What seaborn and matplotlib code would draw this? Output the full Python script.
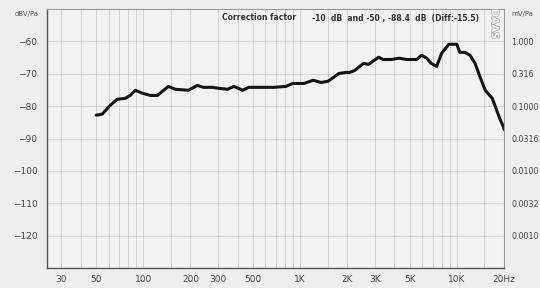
import numpy as np
import pandas as pd
import matplotlib
matplotlib.use("Agg")
import matplotlib.pyplot as plt
import matplotlib.patheffects as pe
import seaborn as sns

# ---- data ----
freq_hz = [50, 54.6, 61.4, 68, 76.7, 82.5, 88.9, 98.5, 110.9, 123, 144.6, 160, 194, 221, 242,
           277, 303, 345, 378, 431, 470, 563, 681, 813, 900, 1060, 1212, 1363, 1510, 1772,
           1970, 2070, 2230, 2540, 2730, 3170, 3400, 3820, 4300, 4780, 5540, 5960, 6420,
           6860, 7440, 8000, 8880, 10000, 10450, 11280, 12150, 13080, 14090, 15180, 16840,
           18150, 19000, 19900, 20000]
level_db = [-82.8, -82.5, -79.8, -77.9, -77.6, -76.7, -75.1, -76.0, -76.7, -76.7, -73.9, -74.8,
            -75.1, -73.6, -74.2, -74.2, -74.5, -74.8, -73.9, -75.1, -74.2, -74.2, -74.2, -73.9,
            -73.0, -73.0, -72.0, -72.7, -72.3, -69.9, -69.6, -69.6, -69.0, -66.8, -67.1, -64.9,
            -65.6, -65.6, -65.2, -65.6, -65.6, -64.3, -65.2, -66.8, -67.7, -63.7, -60.9, -60.9,
            -63.4, -63.4, -64.3, -66.8, -71.1, -75.1, -77.6, -81.9, -84.4, -86.5, -87.2]

y_ticks = [-60, -70, -80, -90, -100, -110, -120]
y_tick_labels = ["\u221260", "\u221270", "\u221280", "\u221290", "\u2212100", "\u2212110", "\u2212120"]
right_tick_labels = ["1.000", "0.316", "0.1000", "0.0316", "0.0100", "0.0032", "0.0010"]
x_ticks = [30, 50, 100, 200, 300, 500, 1000, 2000, 3000, 5000, 10000, 20000]
x_tick_labels = ["30", "50", "100", "200", "300", "500", "1K", "2K", "3K", "5K", "10K", "20Hz"]
x_grid = [30, 40, 50, 60, 70, 80, 90, 100, 150, 200, 300, 400, 500, 600, 700, 800, 900,
          1000, 1500, 2000, 3000, 4000, 5000, 6000, 7000, 8000, 9000, 10000, 15000, 20000]

df = pd.DataFrame({"freq": freq_hz, "level": level_db})

sns.set_style("white")
plt.rcParams["font.family"] = ["DejaVu Sans"]

bg = "#eeeeee"
fig = plt.figure(figsize=(5.4, 2.88), dpi=100, facecolor=bg)
ax = fig.add_axes([47 / 540, 1 - 268 / 288, (504 - 47) / 540, (268 - 9) / 288])
ax.set_facecolor("#f2f2f2")

sns.lineplot(data=df, x="freq", y="level", ax=ax, color="#151515", linewidth=2.2,
             estimator=None, sort=False)

ax.set_xscale("log")
ax.set_xlim(24.3, 20000)
ax.set_ylim(-130, -50)

# grid
gstyle = dict(color="#9a9a9a", linestyle=(0, (1.0, 1.4)), linewidth=0.6, zorder=0)
for xv in x_grid:
    ax.axvline(xv, **gstyle)
for yv in y_ticks:
    ax.axhline(yv, **gstyle)

ax.set_xticks(x_ticks)
ax.set_xticklabels(x_tick_labels)
ax.xaxis.set_minor_locator(matplotlib.ticker.NullLocator())
ax.set_yticks(y_ticks)
ax.set_yticklabels(y_tick_labels)
ax.tick_params(axis="both", length=0, labelsize=6.5, colors="#4a4a4a")
ax.tick_params(axis="x", pad=5)
ax.tick_params(axis="y", pad=7)
ax.set_xlabel("")
ax.set_ylabel("")

for side in ["left", "bottom"]:
    ax.spines[side].set_color("#555555")
    ax.spines[side].set_linewidth(1.0)
for side in ["top", "right"]:
    ax.spines[side].set_color("#999999")
    ax.spines[side].set_linewidth(0.8)

# right axis
ax2 = ax.twinx()
ax2.set_ylim(-130, -50)
ax2.set_yticks(y_ticks)
ax2.set_yticklabels(right_tick_labels)
ax2.tick_params(axis="y", length=0, labelsize=5.8, colors="#4a4a4a", pad=5.5)
for s in ax2.spines.values():
    s.set_visible(False)

fig.text(15 / 540, 1 - 14 / 288, "dBV/Pa", fontsize=5, color="#555555", va="center", ha="left")
fig.text(511 / 540, 1 - 14 / 288, "mV/Pa", fontsize=5, color="#555555", va="center", ha="left")

ax.text(222 / 540, 1 - 18 / 288, "Correction factor", transform=fig.transFigure,
        fontsize=5.5, fontweight="bold", color="#333333", va="center", ha="left")
ax.text(312 / 540, 1 - 18 / 288, "-10  dB  and -50 , -88.4  dB  (Diff:-15.5)",
        transform=fig.transFigure, fontsize=5.5, fontweight="bold", color="#333333",
        va="center", ha="left")

logo = fig.text(495 / 540, 1 - 24 / 288, "DAAS", fontsize=7, rotation=-90, color="#f4f4f4",
                va="center", ha="center", fontweight="bold")
logo.set_path_effects([pe.withStroke(linewidth=1.0, foreground="#aaaaaa")])

fig.savefig("out.png", dpi=100, facecolor=bg)
